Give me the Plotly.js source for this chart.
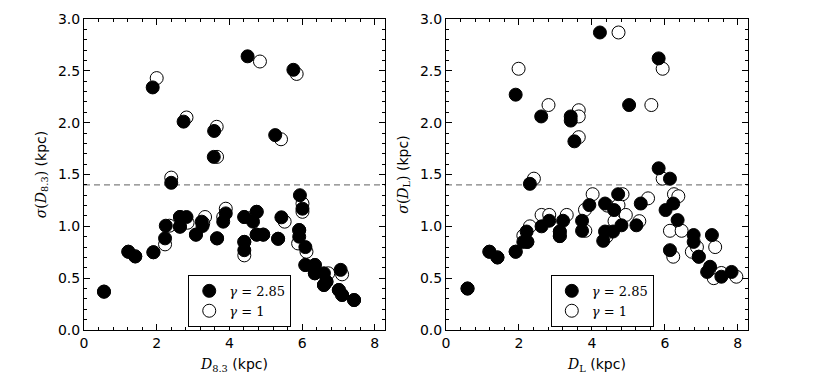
<!DOCTYPE html>
<html>
<head>
<meta charset="utf-8">
<script src="https://cdn.plot.ly/plotly-3.0.1.min.js"></script>
<style>
  body { margin: 0; background: #fff; }
  #chart { width: 831px; height: 389px; }
</style>
</head>
<body>
<div id="chart"></div>
<script>
// panel izquierdo: D_8.3, pares (gamma=2.85 relleno, gamma=1 abierto)
const leftX285 = [0.55, 1.22, 1.41, 1.91, 1.89, 2.23, 2.25, 2.40, 2.64, 2.82, 2.64, 2.74, 3.08, 3.24, 3.26, 3.58, 3.57, 3.66, 3.83, 3.90,
  4.41, 4.41, 4.41, 4.50, 4.65, 4.75, 4.75, 4.93, 5.26, 5.34, 5.43, 5.76, 5.94, 6.01, 5.92, 5.92, 6.09, 6.09, 6.35, 6.35,
  6.60, 6.67, 6.60, 7.06, 7.01, 7.10, 7.43];
const leftY285 = [0.37, 0.755, 0.71, 0.75, 2.34, 0.884, 1.006, 1.42, 1.09, 1.09, 0.997, 2.01, 0.92, 1.045, 1.003, 1.92, 1.67, 0.884, 1.045, 1.125,
  1.09, 0.85, 0.77, 2.64, 1.045, 1.14, 0.92, 0.92, 1.88, 0.88, 1.087, 2.51, 1.30, 1.17, 0.964, 0.90, 0.80, 0.627, 0.627, 0.547,
  0.547, 0.466, 0.434, 0.58, 0.386, 0.338, 0.289];
const leftX1 = [0.55, 1.22, 1.41, 1.91, 2.00, 2.23, 2.35, 2.40, 2.64, 2.85, 2.64, 2.82, 3.08, 3.33, 3.28, 3.65, 3.66, 3.66, 3.83, 3.90,
  4.41, 4.41, 4.41, 4.84, 4.60, 4.75, 4.75, 4.93, 5.42, 5.34, 5.52, 5.85, 6.01, 6.01, 5.92, 5.89, 6.12, 6.09, 6.35, 6.35,
  6.72, 6.67, 6.60, 7.10, 7.01, 7.10, 7.43];
const leftY1 = [0.37, 0.755, 0.71, 0.75, 2.43, 0.826, 1.006, 1.47, 1.09, 1.035, 0.997, 2.05, 0.92, 1.09, 1.03, 1.96, 1.67, 0.884, 1.09, 1.17,
  1.09, 0.85, 0.72, 2.59, 1.08, 1.14, 0.92, 0.92, 1.84, 0.88, 1.045, 2.47, 1.22, 1.14, 0.964, 0.835, 0.755, 0.627, 0.627, 0.547,
  0.547, 0.466, 0.434, 0.537, 0.386, 0.338, 0.289];

// panel derecho: D_L
const rightX285 = [0.59, 1.19, 1.41, 1.91, 1.91, 2.12, 2.23, 2.21, 2.30, 2.62, 2.83, 2.61, 3.12, 3.12, 3.21, 3.42, 3.42, 3.52, 3.73, 3.73,
  3.93, 4.22, 4.31, 4.36, 4.36, 4.58, 4.61, 4.72, 4.81, 5.02, 5.22, 5.34, 5.83, 5.83, 6.14, 6.02, 6.23, 6.35, 6.14, 6.79,
  6.79, 6.93, 7.29, 7.16, 7.24, 7.55, 7.83];
const rightY285 = [0.40, 0.755, 0.70, 0.755, 2.27, 0.85, 0.85, 0.95, 1.41, 1.00, 1.054, 2.06, 0.95, 0.906, 1.054, 2.06, 2.02, 1.82, 1.054, 0.957,
  1.205, 2.87, 0.86, 1.22, 0.95, 0.95, 1.157, 1.31, 1.01, 2.17, 1.01, 1.22, 2.62, 1.56, 1.46, 1.157, 1.22, 1.06, 0.77, 0.916,
  0.85, 0.707, 0.916, 0.56, 0.61, 0.514, 0.56];
const rightX1 = [0.59, 1.19, 1.41, 1.91, 1.99, 2.12, 2.23, 2.30, 2.41, 2.62, 2.83, 2.81, 3.12, 3.12, 3.31, 3.64, 3.64, 3.64, 3.81, 3.82,
  4.02, 4.73, 4.40, 4.42, 4.50, 4.62, 4.73, 4.84, 4.93, 5.63, 5.30, 5.54, 5.94, 5.94, 6.25, 6.14, 6.37, 6.46, 6.23, 6.74,
  6.88, 6.93, 7.38, 7.34, 7.24, 7.55, 7.96];
const rightY1 = [0.40, 0.755, 0.70, 0.755, 2.52, 0.91, 0.85, 1.00, 1.46, 1.11, 1.11, 2.17, 0.95, 0.906, 1.11, 2.12, 2.06, 1.86, 1.16, 0.957,
  1.31, 2.87, 0.90, 1.20, 0.95, 1.05, 1.205, 1.31, 1.11, 2.17, 1.05, 1.27, 2.52, 1.46, 1.31, 0.957, 1.29, 0.957, 0.707, 0.755,
  0.80, 0.707, 0.80, 0.50, 0.59, 0.55, 0.514];

const cutoff = 1.4;
const xRange = [0, 8.28];
const yRange = [0, 3.0];

const serif = 'DejaVu Serif, Liberation Serif, serif';
const sans = 'DejaVu Sans, sans-serif';

function openTrace(x, y, xa, ya, leg) {
  return {
    x: x, y: y, xaxis: xa, yaxis: ya, type: 'scatter', mode: 'markers',
    name: '<i>γ</i> = 1', legend: leg, legendrank: 2,
    marker: { symbol: 'circle', size: 13, color: '#ffffff', line: { color: '#000', width: 1 } },
    hoverinfo: 'skip'
  };
}

function filledTrace(x, y, xa, ya, leg) {
  return {
    x: x, y: y, xaxis: xa, yaxis: ya, type: 'scatter', mode: 'markers',
    name: '<i>γ</i> = 2.85', legend: leg, legendrank: 1,
    marker: { symbol: 'circle', size: 13, color: '#000', line: { color: '#000', width: 1 } },
    hoverinfo: 'skip'
  };
}

const traces = [
  openTrace(leftX1, leftY1, 'x', 'y', 'legend'),
  filledTrace(leftX285, leftY285, 'x', 'y', 'legend'),
  openTrace(rightX1, rightY1, 'x2', 'y2', 'legend2'),
  filledTrace(rightX285, rightY285, 'x2', 'y2', 'legend2')
];

function xAxis(domain, anchor, title) {
  return {
    domain: domain, anchor: anchor, range: xRange,
    showgrid: false, zeroline: false, showline: true, linecolor: '#000', linewidth: 1, mirror: 'ticks',
    ticks: 'inside', ticklen: 6, tickcolor: '#000', tickvals: [0, 2, 4, 6, 8],
    minor: { dtick: 0.4, tick0: 0, ticks: 'inside', ticklen: 3, tickcolor: '#000', showgrid: false },
    tickfont: { family: sans, size: 14, color: '#000' },
    title: { text: title, font: { family: sans, size: 14, color: '#000' }, standoff: 9 }
  };
}

function yAxis(domain, anchor, title) {
  return {
    domain: domain, anchor: anchor, range: yRange,
    showgrid: false, zeroline: false, showline: true, linecolor: '#000', linewidth: 1, mirror: 'ticks',
    ticks: 'inside', ticklen: 6, tickcolor: '#000', tickvals: [0, 0.5, 1, 1.5, 2, 2.5, 3],
    ticktext: ['0.0', '0.5', '1.0', '1.5', '2.0', '2.5', '3.0'],
    minor: { dtick: 0.1, tick0: 0, ticks: 'inside', ticklen: 3, tickcolor: '#000', showgrid: false },
    tickfont: { family: sans, size: 14, color: '#000' },
    title: { text: title, font: { family: sans, size: 14, color: '#000' }, standoff: 8 }
  };
}

const sub83 = '<span style="font-family:DejaVu Serif"><i>D</i><sub>8.3</sub></span>';
const subL = '<span style="font-family:DejaVu Serif"><i>D</i><sub>L</sub></span>';

const legendBase = {
  bgcolor: '#fff', bordercolor: '#000', borderwidth: 1,
  font: { family: serif, size: 13, color: '#000' },
  xanchor: 'left', yanchor: 'bottom', tracegroupgap: 0, itemwidth: 30
};

const layout = {
  width: 831, height: 389,
  margin: { l: 84, r: 83, t: 19, b: 59 },
  paper_bgcolor: '#fff', plot_bgcolor: '#fff',
  showlegend: true,
  xaxis: xAxis([0, 0.4533], 'y', sub83 + ' (kpc)'),
  yaxis: yAxis([0, 1], 'x', '<span style="font-family:DejaVu Serif"><i>σ</i>(</span>' + sub83 + '<span style="font-family:DejaVu Serif">)</span> (kpc)'),
  xaxis2: xAxis([0.5452, 1], 'y2', subL + ' (kpc)'),
  yaxis2: yAxis([0, 1], 'x2', '<span style="font-family:DejaVu Serif"><i>σ</i>(</span>' + subL + '<span style="font-family:DejaVu Serif">)</span> (kpc)'),
  legend: Object.assign({}, legendBase, { x: 0.157, y: 0.01 }),
  legend2: Object.assign({}, legendBase, { x: 0.703, y: 0.01 }),
  shapes: [
    { type: 'line', xref: 'x domain', yref: 'y', x0: 0, x1: 1, y0: cutoff, y1: cutoff,
      line: { color: '#808080', width: 1.2, dash: '6px,4px' }, layer: 'below' },
    { type: 'line', xref: 'x2 domain', yref: 'y2', x0: 0, x1: 1, y0: cutoff, y1: cutoff,
      line: { color: '#808080', width: 1.2, dash: '6px,4px' }, layer: 'below' }
  ]
};

Plotly.newPlot('chart', traces, layout, { displayModeBar: false, staticPlot: true });
</script>
</body>
</html>
